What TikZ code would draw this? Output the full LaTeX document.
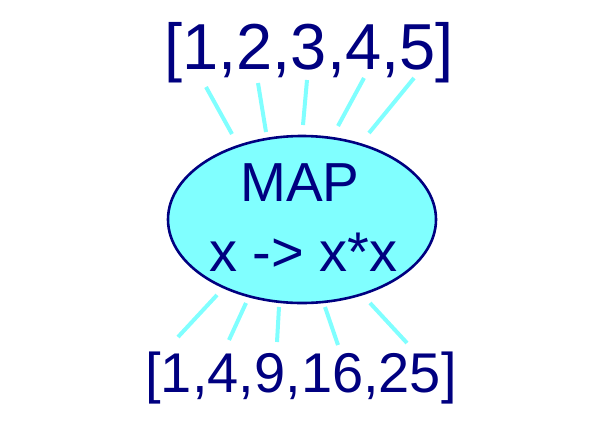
\documentclass[tikz,border=0pt]{standalone}
\usepackage{fontspec}
\setmainfont{Liberation Sans}
\usetikzlibrary{shapes.geometric}
\definecolor{navy}{HTML}{000080}
\definecolor{aqua}{HTML}{80FFFF}
\begin{document}
\begin{tikzpicture}[x=1pt,y=-1pt,
  lbl/.style={inner sep=0pt,anchor=base,text=navy},
  ray/.style={draw=aqua,line width=4pt},
  mapbox/.style={ellipse,draw=navy,line width=2.6pt,fill=aqua,minimum width=268pt,minimum height=167pt,inner sep=0pt}]
\useasboundingbox (0,0) rectangle (604,432);
\node[mapbox] (map) at (302,219.5) {};
\node[lbl,font=\fontsize{65}{65}\selectfont] (in) at (309,69) {[1,2,3,4,5]};
\node[lbl,font=\fontsize{56}{56}\selectfont] (out) at (301,392) {[1,4,9,16,25]};
\node[lbl,font=\fontsize{55}{55}\selectfont] (t1) at (300,201) {MAP};
\node[lbl,font=\fontsize{56}{56}\selectfont] (t2) at (303.5,271) {x -> x*x};
% top rays
\coordinate (a1) at (206,87);  \coordinate (b1) at (232,134);
\coordinate (a2) at (258,83);  \coordinate (b2) at (266,132);
\coordinate (a3) at (307,80);  \coordinate (b3) at (303,125);
\coordinate (a4) at (364,78);  \coordinate (b4) at (338,126);
\coordinate (a5) at (414,78);  \coordinate (b5) at (369,133);
\foreach \i in {1,...,5} \draw[ray] (a\i) -- (b\i);
% bottom rays
\coordinate (c1) at (217,295); \coordinate (d1) at (178,337);
\coordinate (c2) at (246,303); \coordinate (d2) at (229,340);
\coordinate (c3) at (279,307); \coordinate (d3) at (277,342);
\coordinate (c4) at (325,307); \coordinate (d4) at (338,345);
\coordinate (c5) at (370,303); \coordinate (d5) at (407,343);
\foreach \i in {1,...,5} \draw[ray] (c\i) -- (d\i);
\end{tikzpicture}
\end{document}
